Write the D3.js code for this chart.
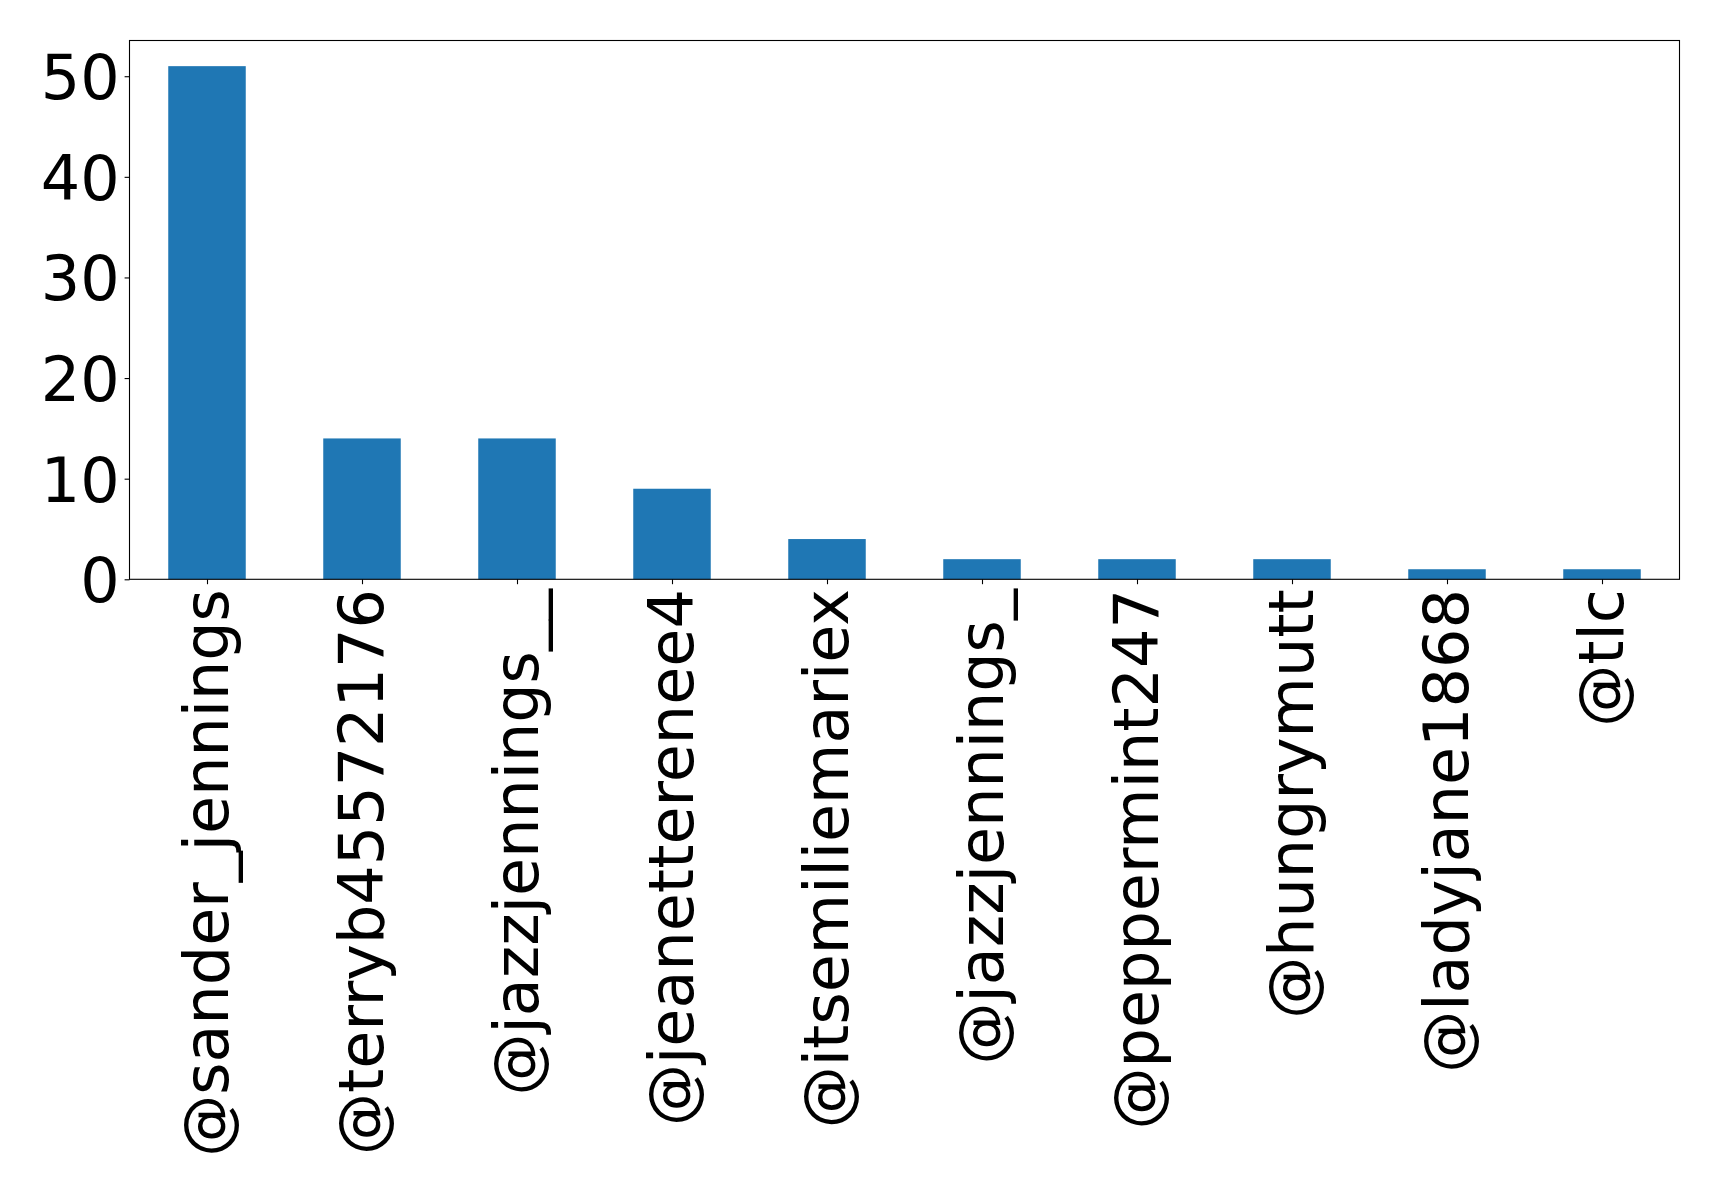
<!DOCTYPE html>
<html><head><meta charset="utf-8">
<script src="https://cdn.jsdelivr.net/npm/d3@7"></script>
<style>body{margin:0;background:#fff}</style>
</head><body>
<svg id="c" width="1719" height="1200"></svg>
<script>
const categories = ["@sander_jennings","@terryb45572176","@jazzjennings__","@jeanetterenee4","@itsemiliemariex","@jazzjennings_","@peppermint247","@hungrymutt","@ladyjane1868","@tlc"];
const values = [51,14,14,9,4,2,2,2,1,1];
const yTicks = [0,10,20,30,40,50];

const mLeft = 129.5, mRight = 1679.5, mTop = 40.5, mBottom = 579.3;
const fontSize = 62;
const svg = d3.select("#c");
const n = categories.length;
const x = d3.scaleLinear().domain([-0.5, n - 0.5]).range([mLeft, mRight]);
const y = d3.scaleLinear().domain([0, d3.max(values) * 1.05]).range([mBottom, mTop]);
const bw = x(0.5) - x(0);

svg.append("g").selectAll("rect").data(values).join("rect")
  .attr("x", (d, i) => x(i) - bw / 2)
  .attr("width", bw)
  .attr("y", d => y(d))
  .attr("height", d => y(0) - y(d))
  .attr("fill", "#1f77b4");

const yAxis = d3.axisLeft(y).tickValues(yTicks).tickSize(4.9).tickPadding(4.9).tickFormat(d3.format("d"));
const gy = svg.append("g").attr("transform", `translate(${mLeft},0)`).call(yAxis);
gy.select(".domain").remove();
gy.selectAll(".tick line").attr("stroke", "#000").attr("stroke-width", 1.1);
gy.selectAll(".tick text").attr("font-family", "DejaVu Sans").attr("font-size", fontSize).attr("fill", "#000").attr("dy", "0.36em");

const xAxis = d3.axisBottom(x).tickValues(d3.range(n)).tickSize(4.9).tickFormat(i => categories[i]);
const gx = svg.append("g").attr("transform", `translate(0,${mBottom})`).call(xAxis);
gx.select(".domain").remove();
gx.selectAll(".tick line").attr("stroke", "#000").attr("stroke-width", 1.1);
gx.selectAll(".tick text")
  .attr("font-family", "DejaVu Sans").attr("font-size", fontSize).attr("fill", "#000")
  .attr("text-anchor", "end")
  .attr("transform", "rotate(-90)")
  .attr("x", -9.8).attr("y", 0).attr("dy", "0.33em");

svg.append("rect").attr("x", mLeft).attr("y", mTop).attr("width", mRight - mLeft).attr("height", mBottom - mTop)
  .attr("fill", "none").attr("stroke", "#000").attr("stroke-width", 1.1);
</script>
</body></html>
